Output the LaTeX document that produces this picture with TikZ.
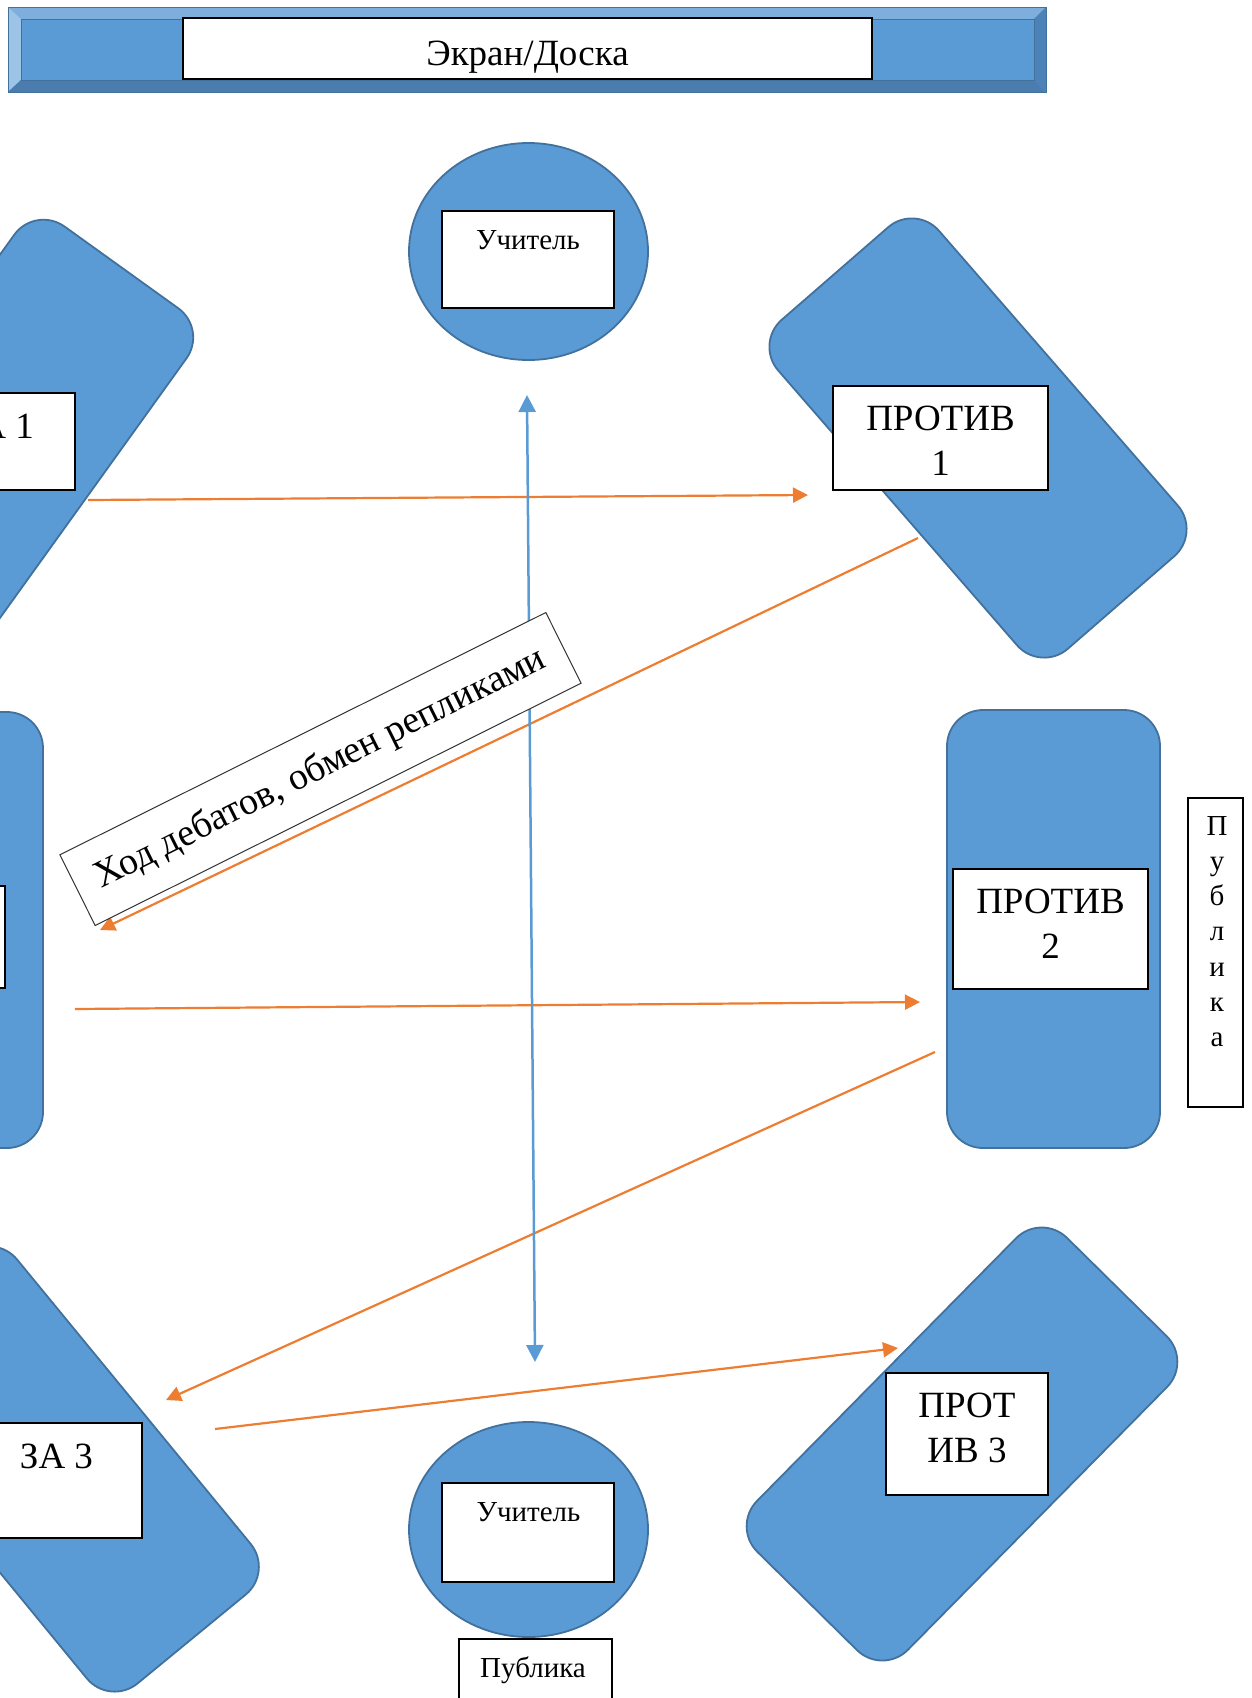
\documentclass[tikz,border=0pt]{standalone}
\usepackage{fontspec}
\setmainfont{Liberation Serif}
\usetikzlibrary{arrows.meta,shapes.geometric}
\definecolor{fillblue}{HTML}{5B9BD5}
\definecolor{edgeblue}{HTML}{41719C}
\definecolor{arrorange}{HTML}{ED7D31}
\definecolor{bevtop}{HTML}{7EAEDC}
\definecolor{bevleft}{HTML}{9DC3E6}
\definecolor{bevbot}{HTML}{4A7DAE}
\definecolor{bevright}{HTML}{4D82B8}
\begin{document}
\begin{tikzpicture}[x=1pt,y=-1pt,
  team/.style={draw=edgeblue, fill=fillblue, line width=1.8pt, inner sep=0pt, rounded corners=36pt},
  teach/.style={ellipse, draw=edgeblue, fill=fillblue, line width=1.8pt, inner sep=0pt},
  tbox/.style={draw=black, fill=white, line width=1.2pt, inner sep=0pt},
  bigtxt/.style={font=\fontsize{37}{45}\selectfont, inner sep=0pt, align=center},
  smalltxt/.style={font=\fontsize{29}{35.3}\selectfont, inner sep=0pt, align=center},
  oarrow/.style={draw=arrorange, line width=2.2pt, -{Triangle[length=15pt,width=15pt]}},
  barrow/.style={draw=fillblue, line width=2.5pt, {Triangle[length=17pt,width=17pt]}-{Triangle[length=17pt,width=17pt]}}
]
\useasboundingbox (0,0) rectangle (1251,1698);
\clip (0,0) rectangle (1251,1698);

% banner
\node[fill=fillblue, inner sep=0pt, minimum width=1038pt, minimum height=85pt] (banner) at (527,49.5) {};
\fill[bevtop] (8,7) -- (1046,7) -- (1034,19) -- (21,19) -- cycle;
\fill[bevleft] (8,7) -- (21,19) -- (21,80) -- (8,92) -- cycle;
\fill[bevbot] (8,92) -- (21,80) -- (1034,80) -- (1046,92) -- cycle;
\fill[bevright] (1046,7) -- (1046,92) -- (1034,80) -- (1034,19) -- cycle;
\draw[edgeblue, line width=1pt] (21,19) rectangle (1034,80);
\draw[edgeblue, line width=1pt] (8,7) rectangle (1046,92);
\node[tbox, minimum width=689pt, minimum height=61pt] (screenbox) at (527.5,48.5) {};
\node[bigtxt, anchor=base] (screentxt) at (527.5,65) {Экран/Доска};

% team shapes
\node[team, minimum width=436pt, minimum height=213pt, rotate=-49] (pro1) at (978,438) {};
\node[team, minimum width=441pt, minimum height=212pt, rotate=45.4] (pro3) at (962,1444) {};
\node[team, minimum width=213pt, minimum height=438pt] (pro2) at (1053.5,929) {};
\node[team, minimum width=213pt, minimum height=436pt] (za2) at (-63.5,930) {};
\node[team, minimum width=440pt, minimum height=212pt, rotate=54.3] (za1) at (-7,446) {};
\node[team, minimum width=440pt, minimum height=212pt, rotate=-50.6] (za3) at (52,1469) {};

% team labels
\node[tbox, minimum width=157pt, minimum height=97pt] (za1box) at (-3.5,441.5) {};
\node[bigtxt, anchor=base east] (za1txt) at (34,438) {ЗА 1};
\node[tbox, minimum width=195pt, minimum height=102pt] (za2box) at (-92.5,937) {};
\node[tbox, minimum width=171pt, minimum height=115pt] (za3box) at (56.5,1480.5) {};
\node[bigtxt, anchor=base] (za3txt) at (56.5,1468) {ЗА 3};
\node[tbox, minimum width=215pt, minimum height=104pt] (pro1box) at (940.5,438) {};
\node[bigtxt, anchor=north] (pro1txt) at (940.5,405.5) {ПРОТИВ\\1};
\node[tbox, minimum width=195pt, minimum height=120pt] (pro2box) at (1050.5,929) {};
\node[bigtxt, anchor=north] (pro2txt) at (1050.5,888.5) {ПРОТИВ\\2};
\node[tbox, minimum width=162pt, minimum height=122pt] (pro3box) at (967,1434) {};
\node[bigtxt, anchor=north] (pro3txt) at (967,1392.5) {ПРОТ\\ИВ 3};

% teachers
\node[teach, minimum width=239pt, minimum height=217pt] (teachtop) at (528.5,251.5) {};
\node[tbox, minimum width=172pt, minimum height=97pt] (teachtopbox) at (528,259.5) {};
\node[smalltxt, anchor=base] (teachtoptxt) at (528,249) {Учитель};
\node[teach, minimum width=239pt, minimum height=215pt] (teachbot) at (528.5,1529.5) {};
\node[tbox, minimum width=172pt, minimum height=99pt] (teachbotbox) at (528,1532.5) {};
\node[smalltxt, anchor=base] (teachbottxt) at (528.5,1521) {Учитель};

% audience
\node[tbox, minimum width=153pt, minimum height=81pt] (pubbot) at (535.5,1679.5) {};
\node[smalltxt, anchor=base] (pubbottxt) at (533,1677) {Публика};
\node[tbox, minimum width=55pt, minimum height=309pt] (pubright) at (1215.5,952.5) {};
\node[smalltxt, anchor=north] (pubrighttxt) at (1217,815.8) {П\\у\\б\\л\\и\\к\\а};

% connectors
\coordinate (o1s) at (88,500);   \coordinate (o1e) at (808,495);
\coordinate (o2s) at (918,538);  \coordinate (o2e) at (100,930);
\coordinate (o3s) at (75,1009);  \coordinate (o3e) at (920,1002);
\coordinate (o4s) at (935,1052); \coordinate (o4e) at (166,1400);
\coordinate (o5s) at (215,1429); \coordinate (o5e) at (898,1348);
\coordinate (bs) at (527,395);   \coordinate (be) at (535,1362);
\draw[oarrow] (o1s) -- (o1e);
\draw[oarrow] (o2s) -- (o2e);
\draw[oarrow] (o3s) -- (o3e);
\draw[oarrow] (o4s) -- (o4e);
\draw[oarrow] (o5s) -- (o5e);
\draw[barrow] (bs) -- (be);

% debate label
\node[tbox, draw=black!80, line width=1pt, rotate=26.5, minimum width=543pt, minimum height=79pt, font=\fontsize{38}{45}\selectfont] (debate) at (320.5,769) {Ход дебатов, обмен репликами};
\end{tikzpicture}
\end{document}
